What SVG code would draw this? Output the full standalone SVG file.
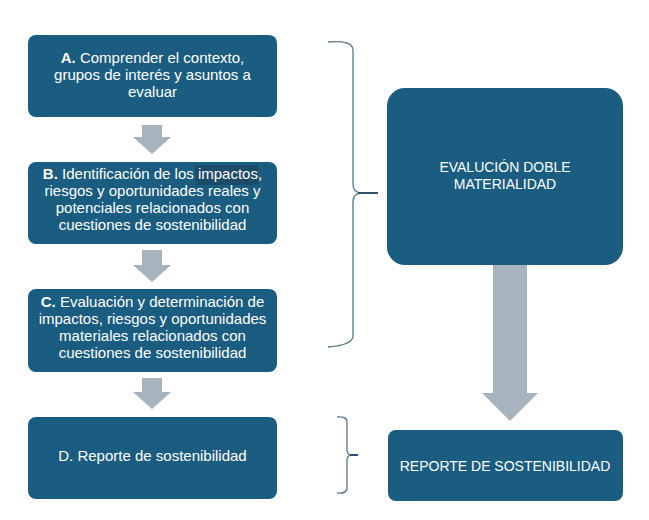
<svg xmlns="http://www.w3.org/2000/svg" width="649" height="520" viewBox="0 0 649 520">
<style>
.box{fill:#1a5d80}
.t{font-family:"Liberation Sans",Arial,sans-serif;font-size:15px;fill:#ffffff;text-anchor:middle}
.c{font-family:"Liberation Sans",Arial,sans-serif;font-size:14px;fill:#ffffff;text-anchor:middle}
.b{font-weight:bold}
.arr{fill:#a8b3c0}
.brace{fill:none;stroke:#5f7f93;stroke-width:1.4}
.tip{fill:none;stroke:#2f5266;stroke-width:2}
</style>
<rect width="649" height="520" fill="#ffffff"/>
<g id="connectors">
<path class="arr" d="M142,125 H162 V137 H171 L152,154 L133,137 H142 Z"/>
<path class="arr" d="M142,250 H162 V265 H171 L152,282 L133,265 H142 Z"/>
<path class="arr" d="M142,378 H162 V392 H171 L152,409 L133,392 H142 Z"/>
<path class="arr" d="M493,250 H527 V393 H538 L510,421 L482,393 H493 Z"/>
<g id="brace1">
<path class="brace" d="M328,42 Q353,40 353,50 V184 Q353,193 362,193 Q353,193 353,202 V336 Q353,345 328,347"/>
<path class="tip" d="M358,193 H378"/>
</g>
<g id="brace2">
<path class="brace" d="M337,417 Q347,416 347,422 V450 Q347,455 352,455 Q347,455 347,460 V488 Q347,494 337,493"/>
<path class="tip" d="M350,455 H358"/>
</g>
</g>
<g id="nodeA">
<rect class="box" x="28" y="35" width="249" height="82" rx="8"/>
<text class="t" x="152.5" y="63"><tspan class="b">A.</tspan> Comprender el contexto,</text>
<text class="t" x="152.5" y="80">grupos de interés y asuntos a</text>
<text class="t" x="152.5" y="97">evaluar</text>
</g>
<g id="nodeB">
<rect class="box" x="28" y="162" width="249" height="82" rx="8"/>
<rect x="195" y="165" width="63" height="20" fill="#1d4c6b"/>
<text class="t" x="152.5" y="179"><tspan class="b">B.</tspan> Identificación de los impactos,</text>
<text class="t" x="152.5" y="196">riesgos y oportunidades reales y</text>
<text class="t" x="152.5" y="213">potenciales relacionados con</text>
<text class="t" x="152.5" y="230">cuestiones de sostenibilidad</text>
</g>
<g id="nodeC">
<rect class="box" x="28" y="289" width="249" height="83" rx="8"/>
<text class="t" x="152.5" y="307"><tspan class="b">C.</tspan> Evaluación y determinación de</text>
<text class="t" x="152.5" y="324">impactos, riesgos y oportunidades</text>
<text class="t" x="152.5" y="341">materiales relacionados con</text>
<text class="t" x="152.5" y="358">cuestiones de sostenibilidad</text>
</g>
<g id="nodeD">
<rect class="box" x="28" y="417" width="249" height="82" rx="8"/>
<text class="t" x="152.5" y="461">D. Reporte de sostenibilidad</text>
</g>
<g id="nodeEval">
<rect class="box" x="387" y="88" width="236" height="177" rx="18"/>
<text class="c" x="505" y="172">EVALUCIÓN DOBLE</text>
<text class="c" x="505" y="189">MATERIALIDAD</text>
</g>
<g id="nodeReport">
<rect class="box" x="388" y="430" width="235" height="71" rx="8"/>
<text class="c" x="505" y="471">REPORTE DE SOSTENIBILIDAD</text>
</g>
</svg>
